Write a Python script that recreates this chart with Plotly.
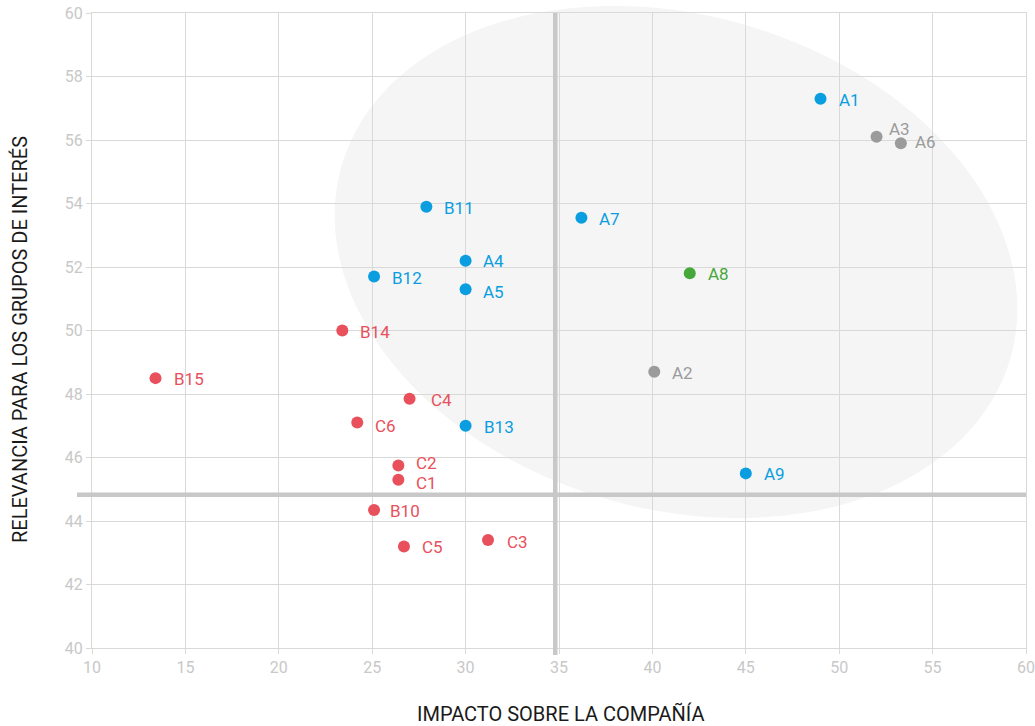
import math
import plotly.graph_objects as go

# ---- data ----
blue_labels = ["A1", "B11", "A7", "A4", "B12", "A5", "B13", "A9"]
blue_x = [49.0, 27.9, 36.2, 30.0, 25.1, 30.0, 30.0, 45.0]
blue_y = [57.3, 53.9, 53.55, 52.2, 51.7, 51.3, 47.0, 45.5]

grey_labels = ["A3", "A6", "A2"]
grey_x = [52.0, 53.3, 40.1]
grey_y = [56.1, 55.9, 48.7]

green_labels = ["A8"]
green_x = [42.0]
green_y = [51.8]

red_labels = ["B14", "B15", "C4", "C6", "C2", "C1", "B10", "C3", "C5"]
red_x = [23.4, 13.4, 27.0, 24.2, 26.4, 26.4, 25.1, 31.2, 26.7]
red_y = [50.0, 48.5, 47.85, 47.1, 45.75, 45.3, 44.35, 43.4, 43.2]

x_ticks = [10, 15, 20, 25, 30, 35, 40, 45, 50, 55, 60]
y_ticks = [40, 42, 44, 46, 48, 50, 52, 54, 56, 58, 60]

x_ref = 34.8
y_ref = 44.83

x_title = "IMPACTO SOBRE LA COMPAÑÍA"
y_title = "RELEVANCIA PARA LOS GRUPOS DE INTERÉS"

# ---- style ----
W, H = 1035, 726
ML, MR, MT, MB = 92, 9, 13, 78
PW, PH = W - ML - MR, H - MT - MB
FONT = "Roboto"
BLUE = "#0a9ee0"
RED = "#e8505b"
GREY = "#9b9b9b"
GREEN = "#47a83a"
GRID = "#d9d9d9"
# label nudges in px (dx from marker centre to text start, dy upward)
LABEL_DEFAULT = (16, -1)
LABEL_NUDGE = {"A3": (10, 8), "A6": (12, 1), "C2": (16, 2), "C1": (16, -3),
               "C4": (19, -1), "C3": (17, -2), "A5": (15, -3), "C6": (16, -3),
               "B10": (14, -1), "A4": (15, 0)}

fig = go.Figure()


def add_series(xs, ys, labels, color):
    fig.add_trace(go.Scatter(
        x=xs, y=ys, mode="markers",
        marker=dict(size=12, color=color),
        cliponaxis=False,
        hoverinfo="skip",
        showlegend=False,
    ))
    for xv, yv, lab in zip(xs, ys, labels):
        dx, dy = LABEL_NUDGE.get(lab, LABEL_DEFAULT)
        fig.add_annotation(x=xv, y=yv, xref="x", yref="y", text=lab,
                           showarrow=False, xanchor="left", yanchor="middle",
                           xshift=dx, yshift=dy,
                           font=dict(family=FONT, size=17, color=color))


add_series(blue_x, blue_y, blue_labels, BLUE)
add_series(grey_x, grey_y, grey_labels, GREY)
add_series(green_x, green_y, green_labels, GREEN)
add_series(red_x, red_y, red_labels, RED)

# ---- background ellipse (decoration, rotated, in paper coords) ----
cx, cy = 584.0, 249.0      # px from plot top-left
a, b = 348.0, 247.0
th = math.radians(16)
pts = []
for i in range(121):
    t = 2 * math.pi * i / 120
    px = cx + a * math.cos(t) * math.cos(th) - b * math.sin(t) * math.sin(th)
    py = cy + a * math.cos(t) * math.sin(th) + b * math.sin(t) * math.cos(th)
    pts.append((px / PW, 1 - py / PH))
path = "M " + " L ".join(f"{x:.5f},{y:.5f}" for x, y in pts) + " Z"
fig.add_shape(type="path", path=path, xref="paper", yref="paper",
              fillcolor="#f5f5f5", line=dict(width=0), layer="below")

# ---- reference lines ----
fig.add_shape(type="line", xref="x", yref="paper", x0=x_ref, x1=x_ref,
              y0=-7 / PH, y1=1, line=dict(color="#c8c8c8", width=4.5), layer="above")
fig.add_shape(type="line", xref="paper", yref="y", x0=-15 / PW, x1=1,
              y0=y_ref, y1=y_ref, line=dict(color="#c8c8c8", width=4.5), layer="above")

axis_common = dict(
    showgrid=True, gridcolor=GRID, gridwidth=1, automargin=False,
    zeroline=False, showline=True, linecolor=GRID, linewidth=1, mirror=True,
    ticks="outside", ticklen=5, tickcolor=GRID,
    tickfont=dict(family=FONT, size=16, color="#c8c8c8"),
)
fig.update_xaxes(range=[10, 60], tickvals=x_ticks, ticktext=[str(v) for v in x_ticks], **axis_common)
fig.update_yaxes(range=[40, 60], tickvals=y_ticks, ticktext=[str(v) for v in y_ticks], **axis_common)

fig.add_annotation(text=x_title, xref="paper", yref="paper",
                   x=(560 - ML) / PW, y=-(714 - (H - MB)) / PH,
                   xanchor="center", yanchor="middle", showarrow=False,
                   font=dict(family=FONT, size=20, color="#1a1a1a"))
fig.add_annotation(text=y_title, xref="paper", yref="paper",
                   x=(20 - ML) / PW, y=((H - MB) - 340) / PH,
                   xanchor="center", yanchor="middle", showarrow=False, textangle=-90,
                   font=dict(family=FONT, size=20, color="#1a1a1a"))

fig.update_layout(
    width=W, height=H,
    margin=dict(l=ML, r=MR, t=MT, b=MB, autoexpand=False),
    paper_bgcolor="white", plot_bgcolor="rgba(0,0,0,0)",
    font=dict(family=FONT),
)

fig.write_html("out.html",
               config={"displayModeBar": False},
               post_script="document.body.style.margin='0';document.body.style.overflow='hidden';")
